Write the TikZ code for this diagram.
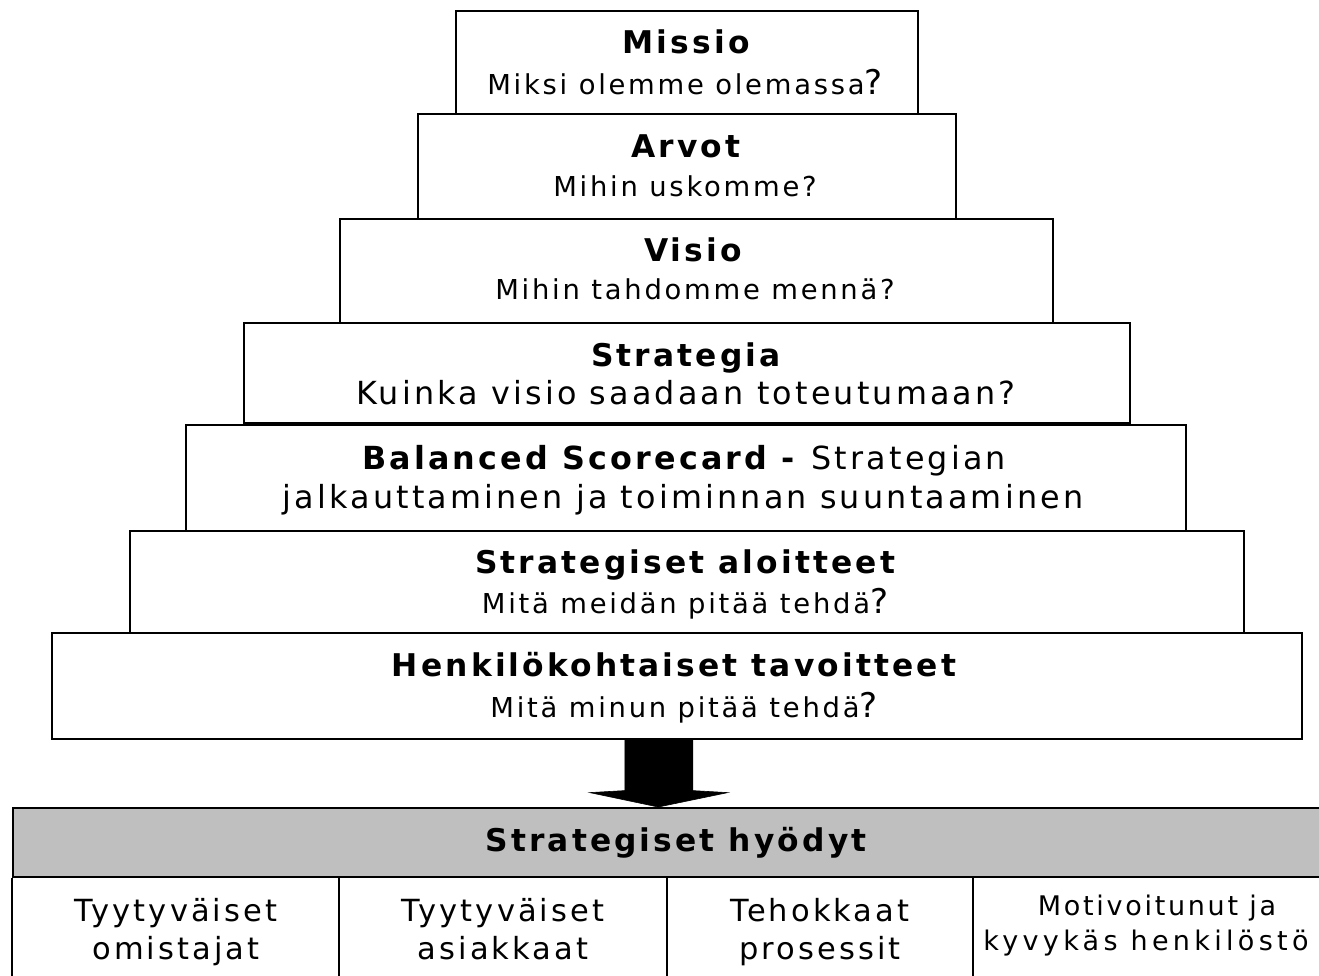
\documentclass[tikz,border=0pt]{standalone}
\usepackage{fontspec}
\setmainfont{DejaVu Sans}[LetterSpace=10]
\newfontfamily\qmfont{DejaVu Sans}
\usetikzlibrary{calc}
\newcommand{\fsz}[1]{\fontsize{#1}{#1}\selectfont}
\newcommand{\bigqm}{{\qmfont\fsz{34}?}}
\begin{document}
\begin{tikzpicture}[x=1pt,y=-1pt,
  tier/.style={draw=black, line width=1.6pt, fill=white, inner sep=0pt},
  ttl/.style={anchor=base, inner sep=0pt, font=\fsz{31.3}\bfseries},
  sub/.style={anchor=base, inner sep=0pt, font=\fsz{27.4}},
  subL/.style={anchor=base, inner sep=0pt, font=\fsz{31.8}},
  cell/.style={anchor=base, inner sep=0pt, font=\fsz{30.5}},
  cellS/.style={anchor=base, inner sep=0pt, font=\fsz{27}},
  bigarrow/.style={fill=black, draw=black, line width=0.6pt, line join=miter}
]
\useasboundingbox (0,0) rectangle (1319,975);
\clip (0,0) rectangle (1319,975);

% pyramid tiers, top to bottom
\node[tier, minimum width=462pt, minimum height=103pt, anchor=north west] (missio) at (455,10) {};
\node[tier, minimum width=538pt, minimum height=105pt, anchor=north west] (arvot) at (417,113) {};
\node[tier, minimum width=713pt, minimum height=105pt, anchor=north west] (visio) at (339,218) {};
\node[tier, minimum width=886pt, minimum height=100pt, anchor=north west] (strat) at (243,322) {};
\node[tier, minimum width=1000pt, minimum height=106pt, anchor=north west] (bsc) at (185,424) {};
\node[tier, minimum width=1114pt, minimum height=102pt, anchor=north west] (aloit) at (129,530) {};
\node[tier, minimum width=1250pt, minimum height=106pt, anchor=north west] (henk) at (51,632) {};

% tier texts
\node[ttl] (missioT) at (686,53) {Missio};
\node[sub] (missioS) at (685,94) {Miksi olemme olemassa\bigqm};
\node[ttl] (arvotT) at (686,157) {Arvot};
\node[sub] (arvotS) at (685,196) {Mihin uskomme?};
\node[ttl] (visioT) at (693,261) {Visio};
\node[sub] (visioS) at (695,299) {Mihin tahdomme mennä?};
\node[ttl] (stratT) at (686,366) {Strategia};
\node[subL] (stratS) at (686,404) {Kuinka visio saadaan toteutumaan?};
\node[subL] (bscT) at (684,469) {\textbf{Balanced Scorecard -} Strategian};
\node[subL] (bscS) at (683,508) {jalkauttaminen ja toiminnan suuntaaminen};
\node[ttl] (aloitT) at (685,573) {Strategiset aloitteet};
\node[sub] (aloitS) at (685,613) {Mitä meidän pitää tehdä\bigqm};
\node[ttl] (henkT) at (674,676) {Henkilökohtaiset tavoitteet};
\node[sub] (henkS) at (684,717) {Mitä minun pitää tehdä\bigqm};

% benefits table
\node[draw=black, line width=1.6pt, fill=black!25, minimum width=1327pt, minimum height=69pt,
      inner sep=0pt, anchor=north west] (hdr) at (12,807) {};
\node[ttl] (hdrT) at (676,851) {Strategiset hyödyt};
\draw[line width=1.6pt] (hdr.south west) -- ++(0,120);
\coordinate (c1) at (339,876);
\coordinate (c2) at (667,876);
\coordinate (c3) at (973,876);
\draw[line width=1.6pt] (c1) -- ++(0,120) (c2) -- ++(0,120) (c3) -- ++(0,120);

\node[cell] (b1a) at (176,921) {Tyytyväiset};
\node[cell] (b1b) at (176,959) {omistajat};
\node[cell] (b2a) at (503,921) {Tyytyväiset};
\node[cell] (b2b) at (503,959) {asiakkaat};
\node[cell] (b3a) at (820,921) {Tehokkaat};
\node[cell] (b3b) at (820,959) {prosessit};
\node[cellS] (b4a) at (1157,915) {Motivoitunut ja};
\node[cellS] (b4b) at (1146,950) {\addfontfeature{LetterSpace=16}kyvykäs henkilöstö};

% block arrow from the pyramid down to the benefits
\coordinate (atop) at ($(henk.south)+(-18,0)$);
\coordinate (atip) at ($(hdr.north)+(-18,0)$);
\draw[bigarrow]
  ($(atop)+(-34,0)$) -- ($(atop)+(34,0)$) -- ($(atop)+(34,51)$) -- ($(atop)+(69,53)$)
  -- (atip) -- ($(atop)+(-69,53)$) -- ($(atop)+(-34,51)$) -- cycle;
\end{tikzpicture}
\end{document}
